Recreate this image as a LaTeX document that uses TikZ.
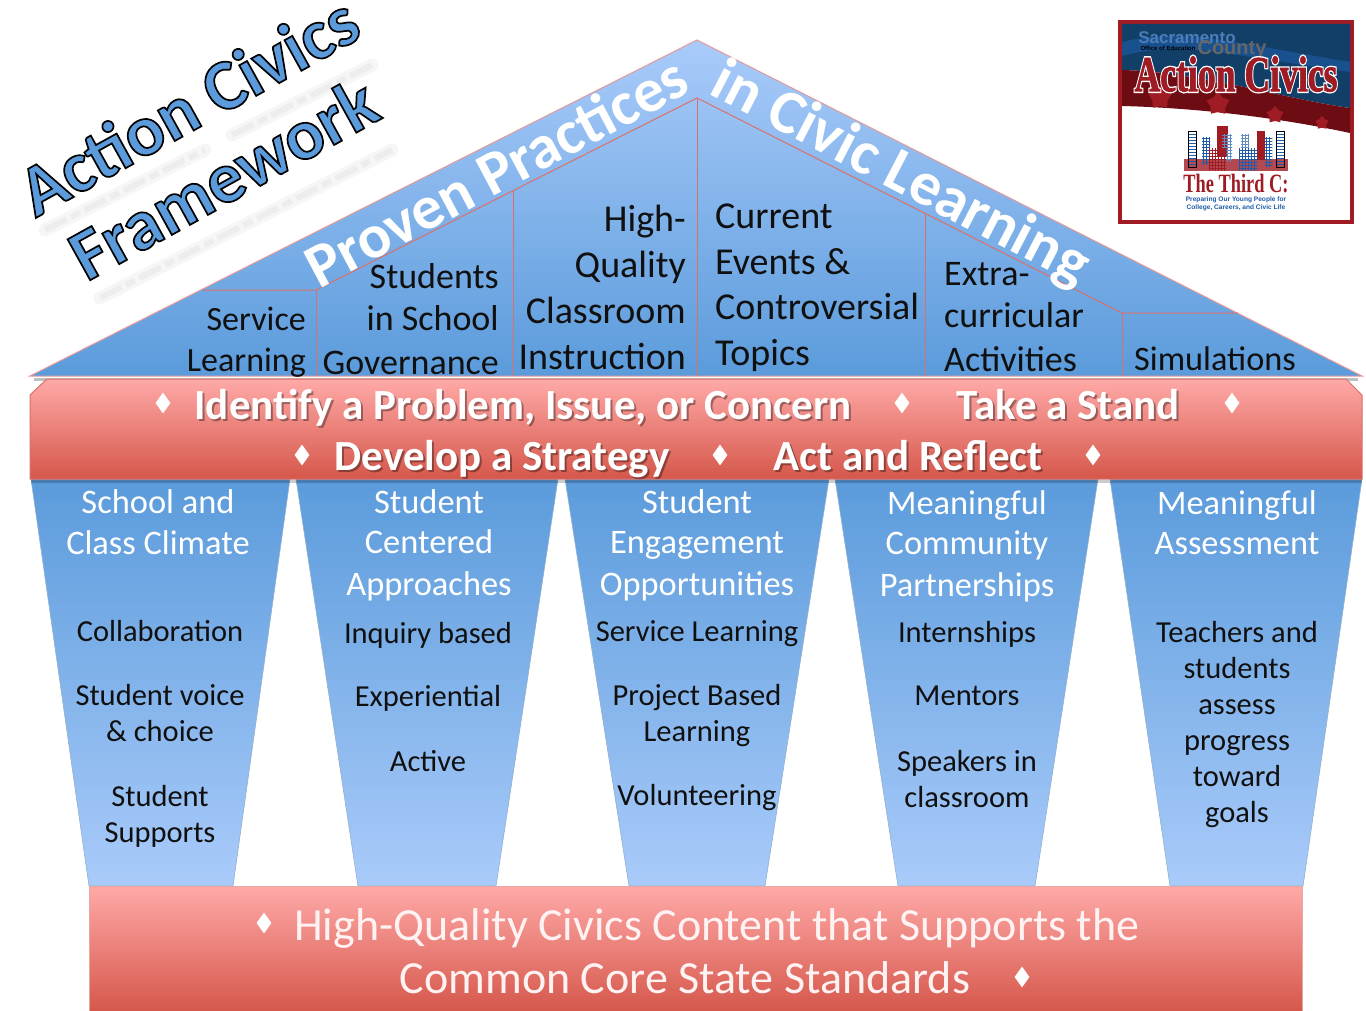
\documentclass[tikz,border=0pt]{standalone}
\usepackage{fontspec}
\usetikzlibrary{shapes.geometric,patterns}
\setmainfont{Carlito}
\newfontfamily\logoserif{Liberation Serif}
\newfontfamily\logosans{Liberation Sans}
\definecolor{roofpale}{HTML}{A9CBFA}
\definecolor{roofdeep}{HTML}{5B9BDB}
\definecolor{bandpale}{HTML}{FFA9A7}
\definecolor{banddeep}{HTML}{D5574B}
\definecolor{edgered}{HTML}{D9706A}
\definecolor{ink}{HTML}{101010}
\definecolor{logored}{HTML}{A01C24}
\definecolor{logonavy}{HTML}{123F68}
\definecolor{logowine}{HTML}{6E0C14}
\definecolor{logoblue}{HTML}{1F5CA8}
\newcommand{\outlined}[1]{\special{pdf:code q 2 Tr 1.7 w 0 0 0 RG}#1\special{pdf:code Q}}
\newcommand{\sized}[1]{\fontsize{#1}{41}\selectfont}
\tikzset{
  roofpiece/.style={draw=edgered!70, line width=1pt, top color=roofpale, bottom color=roofdeep},
  pillar/.style={draw=roofdeep!80!black!60, line width=0.6pt, top color=roofdeep, bottom color=roofpale},
  band/.style={draw=edgered, line width=1pt, top color=bandpale, bottom color=banddeep},
  rib/.style={draw=edgered, line width=1pt},
  gem/.style={diamond, fill=white, inner sep=0pt, minimum width=15pt, minimum height=21pt},
  label/.style={inner sep=0pt, text=ink, execute at begin node=\strut},
  item/.style={inner sep=0pt, text=ink, anchor=north, align=center, font=\fontsize{30.5}{36}\selectfont, execute at begin node=\strut},
  head/.style={inner sep=0pt, text=white, anchor=north, align=center, font=\fontsize{34.4}{41}\selectfont, execute at begin node=\strut},
  bandtext/.style={inner sep=0pt, text=white, font=\bfseries\fontsize{43}{50}\selectfont},
  bandshade/.style={bandtext, text=black, opacity=0.35},
  rooftext/.style={inner sep=0pt, text=white, font=\bfseries\fontsize{62}{64}\selectfont},
  basetext/.style={inner sep=0pt, text=white!95!red, font=\fontsize{46}{54}\selectfont},
  framework/.style={inner sep=0pt, text=roofdeep, font=\bfseries\fontsize{72}{76}\selectfont, rotate=29},
  blurwide/.style={draw=gray, opacity=0.07, line width=13pt, line cap=round},
  blurthin/.style={draw=gray, opacity=0.08, line width=6pt, dash pattern=on 24pt off 5pt on 10pt off 5pt},
  tower/.style={fill=logoblue!75, pattern=grid, pattern color=logoblue}
}
\begin{document}
\begin{tikzpicture}[x=1pt, y=-1pt]
\useasboundingbox (0, 0) rectangle (1366, 1011);
\draw [blurwide] (45, 230) -- (205, 150);
\draw [blurwide] (232, 135) -- (372, 65);
\draw [blurwide] (100, 298) -- (392, 150);
\draw [blurthin] (45, 230) -- (205, 150);
\draw [blurthin] (232, 135) -- (372, 65);
\draw [blurthin] (100, 298) -- (392, 150);
\node [framework] (titletop) at (188, 105) {\outlined{Action Civics}};
\node [framework] (titlelow) at (223, 178) {\outlined{Framework}};
\draw [draw=black, opacity=0.25, line width=3pt] (34, 379) -- (1358, 379);
\draw [roofpiece] (697, 40) -- (1362, 376) -- (30, 376) -- cycle;
\draw [rib] (203, 290) -- (316, 290) -- (697, 98) -- (1122, 313) -- (1238, 313);
\draw [rib] (316, 290) -- (316, 376);
\draw [rib] (513, 191) -- (513, 376);
\draw [rib] (697, 98) -- (697, 376);
\draw [rib] (925, 214) -- (925, 376);
\draw [rib] (1122, 313) -- (1122, 376);
\node [rooftext, rotate=28] (proven) at (496, 171) {Proven Practices};
\node [rooftext, rotate=-27.5] (civic) at (900, 175) {in Civic Learning};
\node [label, font=\sized{34}, anchor=north east, align=right] (service) at (306, 307) {Service\\[0pt]Learning};
\node [label, font=\sized{36}, anchor=north east, align=right] (governance) at (499, 263) {Students\\[1pt]in School\\[3pt]Governance};
\node [label, font=\sized{38}, anchor=north east, align=right] (classroom) at (686, 205) {High-\\[5pt]Quality\\[5pt]Classroom\\[5pt]Instruction};
\node [label, font=\sized{38}, anchor=north west, align=left] (events) at (715, 204) {Current\\[5pt]Events \&\\[4pt]Controversial\\[5pt]Topics};
\node [label, font=\sized{36}, anchor=north west, align=left] (extra) at (944, 262) {Extra-\\[1pt]curricular\\[3pt]Activities};
\node [label, font=\sized{34.3}, anchor=north west] (simulations) at (1134, 342) {Simulations};
\draw [pillar] (31, 479) -- (290, 479) -- (233, 886) -- (89, 886) -- cycle;
\draw [pillar] (296, 479) -- (558, 479) -- (496, 886) -- (358, 886) -- cycle;
\draw [pillar] (565, 479) -- (829, 479) -- (765, 886) -- (629, 886) -- cycle;
\draw [pillar] (835, 479) -- (1098, 479) -- (1035, 886) -- (898, 886) -- cycle;
\draw [pillar] (1110, 479) -- (1362, 479) -- (1303, 886) -- (1170, 886) -- cycle;
\draw [draw=black, opacity=0.2, line width=3pt] (31, 481) -- (1362, 481);
\draw [band] (47, 379) -- (1346, 379) -- (1362, 395) -- (1362, 479) -- (30, 479) -- (30, 395) -- cycle;
\node [bandshade] (identifyshade) at (525, 410) {Identify a Problem, Issue, or Concern};
\node [bandshade] (standshade) at (1070, 407) {Take a Stand};
\node [bandshade] (strategyshade) at (504, 461) {Develop a Strategy};
\node [bandshade] (reflectshade) at (910, 458) {Act and Reflect};
\node [bandtext] (identify) at (523, 408) {Identify a Problem, Issue, or Concern};
\node [bandtext] (stand) at (1068, 405) {Take a Stand};
\node [bandtext] (strategy) at (502, 459) {Develop a Strategy};
\node [bandtext] (reflect) at (908, 456) {Act and Reflect};
\node [gem] (gema) at (163, 403) {};
\node [gem] (gemb) at (902, 403) {};
\node [gem] (gemc) at (1232, 403) {};
\node [gem] (gemd) at (302, 455) {};
\node [gem] (geme) at (720, 455) {};
\node [gem] (gemf) at (1093, 455) {};
\node [head] (climate) at (158, 489.5) {School and\\[0pt]Class Climate};
\node [item] (collaboration) at (160, 616) {Collaboration};
\node [item] (voice) at (160, 684) {Student voice\\\& choice};
\node [item] (supports) at (160, 785) {Student\\Supports};
\node [head] (centered) at (429, 489.5) {Student\\[-1pt]Centered\\[1pt]Approaches};
\node [item] (inquiry) at (428, 618) {Inquiry based};
\node [item] (experiential) at (428, 681) {Experiential};
\node [item] (active) at (428, 746) {Active};
\node [head] (engagement) at (697, 489.5) {Student\\[-1pt]Engagement\\[1pt]Opportunities};
\node [item] (learning) at (697, 616) {Service Learning};
\node [item] (project) at (697, 684) {Project Based\\Learning};
\node [item] (volunteering) at (697, 780) {Volunteering};
\node [head] (community) at (967, 490.5) {Meaningful\\[-1pt]Community\\[1pt]Partnerships};
\node [item] (internships) at (967, 617) {Internships};
\node [item] (mentors) at (967, 680) {Mentors};
\node [item] (speakers) at (967, 750) {Speakers in\\classroom};
\node [head] (assessment) at (1237, 490.5) {Meaningful\\[-1pt]Assessment};
\node [item] (teachers) at (1237, 621) {Teachers and\\students\\assess\\progress\\toward\\goals};
\draw [band, draw=edgered!60] (89, 886) -- (1302, 886) -- (1302, 1012) -- (89, 1012) -- cycle;
\node [basetext] (content) at (717, 928) {High-Quality Civics Content that Supports the};
\node [basetext] (core) at (685, 978) {Common Core State Standards};
\node [gem] (gemg) at (264, 923) {};
\node [gem] (gemh) at (1022, 977) {};
\draw [fill=white, draw=logored, line width=4pt] (1120, 22) rectangle (1352, 222);
\fill [logonavy] (1122, 24) -- (1350, 24) -- (1350, 108) .. controls (1290, 100) and (1200, 72) .. (1122, 70) -- cycle;
\fill [logoblue, opacity=0.6] (1122, 42) .. controls (1180, 28) and (1220, 40) .. (1350, 62) -- (1350, 72) .. controls (1230, 55) and (1180, 40) .. (1122, 56) -- cycle;
\fill [logowine] (1122, 70) .. controls (1200, 72) and (1290, 100) .. (1350, 108) -- (1350, 133) .. controls (1280, 118) and (1200, 108) .. (1122, 106) -- cycle;
\node [star, star points=5, fill=logored, inner sep=0pt, minimum size=24pt] (stara) at (1218, 104) {};
\node [star, star points=5, fill=logored, inner sep=0pt, minimum size=18pt] (starb) at (1275, 115) {};
\node [star, star points=5, fill=logored, inner sep=0pt, minimum size=14pt] (starc) at (1322, 123) {};
\node [star, star points=5, fill=logored, inner sep=0pt, minimum size=24pt] (stard) at (1160, 98) {};
\node [inner sep=0pt, text=logoblue!80!white, font=\logosans\bfseries\fontsize{17}{20}\selectfont] (sacramento) at (1187, 38) {Sacramento};
\node [inner sep=0pt, text=black, font=\logosans\bfseries\fontsize{6}{7}\selectfont] (office) at (1168, 48) {Office of Education};
\node [inner sep=0pt, text=gray!80!black, font=\logosans\bfseries\fontsize{20}{20}\selectfont] (county) at (1232, 50) {County};
\node [inner sep=0pt, text=white, font=\logoserif\bfseries\fontsize{36}{36}\selectfont, xscale=0.99, yscale=1.4] (civicslogoback) at (1236, 74) {\special{pdf:code q 2 Tr 2.6 w 1 1 1 RG}Action Civics\special{pdf:code Q}};
\node [inner sep=0pt, text=logored, font=\logoserif\bfseries\fontsize{36}{36}\selectfont, xscale=0.99, yscale=1.4] (civicslogo) at (1236, 74) {\special{pdf:code q 2 Tr 0.6 w 0.63 0.11 0.14 RG}Action Civics\special{pdf:code Q}};
\fill [logored!80] (1184, 159) rectangle (1288, 171);
\fill [logored] (1217, 126) rectangle (1228, 157);
\fill [logored] (1257, 131) rectangle (1265, 160);
\draw [tower, pattern=horizontal lines] (1188, 131) rectangle (1196, 167);
\draw [tower, pattern=horizontal lines] (1276, 131) rectangle (1284, 167);
\fill [tower] (1202, 138) rectangle (1210, 165);
\fill [tower, pattern color=logoblue!70] (1222, 135) rectangle (1232, 162);
\fill [tower, pattern color=logoblue!70] (1241, 135) rectangle (1249, 150);
\fill [tower] (1265, 138) rectangle (1272, 167);
\fill [tower] (1239, 149) rectangle (1257, 171);
\fill [tower, pattern color=logored] (1209, 149) rectangle (1226, 171);
\node [inner sep=0pt, text=logored, font=\logoserif\bfseries\fontsize{24}{24}\selectfont, xscale=0.765, yscale=1.1] (thirdc) at (1236, 184) {The Third C:};
\node [inner sep=0pt, text=logoblue, align=center, font=\logosans\bfseries\fontsize{6.6}{8.2}\selectfont] (preparing) at (1236, 204) {Preparing Our Young People for\\College, Careers, and Civic Life};
\end{tikzpicture}
\end{document}
